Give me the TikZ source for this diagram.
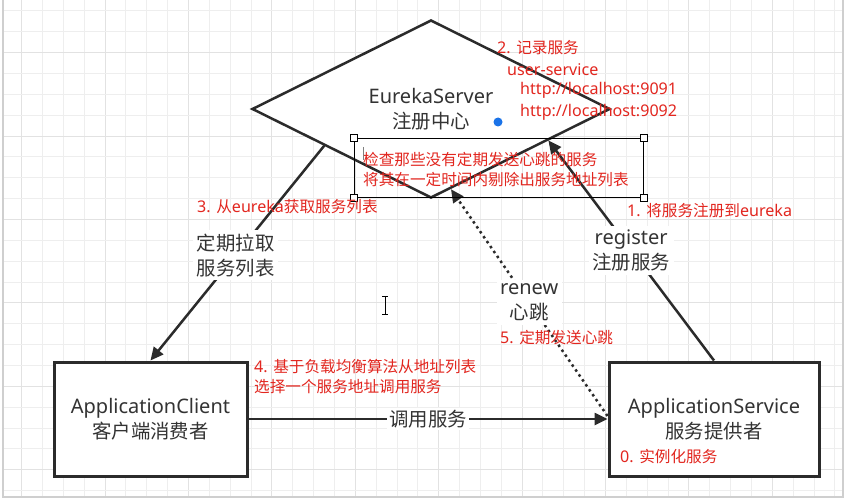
\documentclass[tikz,border=0pt]{standalone}
\usepackage{fontspec}
\setmainfont{Noto Sans}
\newfontfamily\zhfont[Scale=0.97]{Noto Sans CJK SC}
\newcommand\zh[1]{{\zhfont #1}}
\usetikzlibrary{shapes.geometric,arrows.meta}
\definecolor{txt}{HTML}{333333}
\definecolor{ln}{HTML}{2B2B2B}
\definecolor{rd}{HTML}{E2261F}
\definecolor{gmin}{HTML}{EEEEEE}
\definecolor{gmaj}{HTML}{E2E2E2}
\definecolor{frm}{HTML}{CFCFCF}
\definecolor{bluedot}{HTML}{1A73E8}
\tikzset{
  blk/.style={text=txt, font=\fontsize{20}{25}\selectfont, align=center},
  redtxt/.style={text=rd, font=\fontsize{16.1}{20}\selectfont, anchor=west, inner sep=0pt},
  boxnode/.style={draw=ln, line width=3pt, fill=white, blk},
  conn/.style={draw=ln, line width=2.5pt},
  tip/.style={-{Triangle[length=13pt,width=12pt]}},
  lbl/.style={blk, fill=white, inner sep=3.5pt},
  handle/.style={draw=black, fill=white, line width=0.8pt, minimum size=7pt, inner sep=0pt},
}
\begin{document}
\begin{tikzpicture}[x=1pt,y=-1pt]
\useasboundingbox (0,0) rectangle (847,500);
\fill[white] (0,0) rectangle (847,500);
% grid
\foreach \k in {0,...,39} {
  \pgfmathsetmacro\xx{21.7+20.85*\k}
  \pgfmathtruncatemacro\mm{mod(\k,4)}
  \ifnum\mm=0 \draw[gmaj, line width=1pt] (\xx,0) -- (\xx,497);
  \else \draw[gmin, line width=1pt] (\xx,0) -- (\xx,497); \fi
}
\foreach \k in {0,...,23} {
  \pgfmathsetmacro\yy{11+20.85*\k}
  \pgfmathtruncatemacro\mm{mod(\k,4)}
  \ifnum\mm=2 \draw[gmaj, line width=1pt] (3,\yy) -- (843,\yy);
  \else \draw[gmin, line width=1pt] (3,\yy) -- (843,\yy); \fi
}
\draw[frm, line width=1.2pt] (3,0) -- (3,497) -- (843,497) -- (843,0);

% nodes
\node[diamond, draw=ln, line width=2.5pt, fill=white, aspect=2,
      minimum width=358pt, minimum height=178pt, inner sep=0pt, blk]
      (eureka) at (431,109) {EurekaServer\\\zh{注册中心}};
\fill[bluedot] (498,122) circle (4.5);

\node[boxnode, minimum width=193pt, minimum height=114pt]
      (client) at (150.5,419) {ApplicationClient\\\zh{客户端消费者}};
\node[boxnode, minimum width=210pt, minimum height=114pt]
      (service) at (714,419) {ApplicationService\\\zh{服务提供者}};

% connectors
\draw[conn, tip] (eureka.199) -- node[lbl, pos=0.51] {\zh{定期拉取}\\\zh{服务列表}} (client.north);
\draw[conn, tip] (service.north) -- node[lbl, pos=0.5] {register\\\zh{注册服务}} (eureka.-15);
\draw[conn, tip, line width=2.5pt, dash pattern=on 2.5pt off 3.5pt] ([yshift=3pt]service.west) -- node[lbl, pos=0.5] {renew\\\zh{心跳}} (eureka.-76);
\draw[conn, tip] (client.east) -- node[lbl, pos=0.5, inner sep=2pt] {\zh{调用服务}} (service.west);

% selection box
\node[draw=black, line width=0.9pt, minimum width=289pt, minimum height=59pt, inner sep=0pt] (sel) at (498.5,167.5) {};
\node[handle] (h1) at (sel.north west) {};
\node[handle] (h2) at (sel.north east) {};
\node[handle] (h3) at (sel.south west) {};
\node[handle] (h4) at (sel.south east) {};
\node[redtxt] (s1) at (363,160) {\zh{检查那些没有定期发送心跳的服务}};
\node[redtxt] (s2) at (363,180) {\zh{将其在一定时间内剔除出服务地址列表}};
\draw[gray, line width=0.8pt] (363,147) -- (363,160);

% red annotations
\node[redtxt] (r2a) at (497,48) {2. \zh{记录服务}};
\node[redtxt] (r2b) at (507,70) {user-service};
\node[redtxt] (r2c) at (520,90) {http://localhost:9091};
\node[redtxt] (r2d) at (520,112) {http://localhost:9092};
\node[redtxt] (r3) at (197,207) {3. \zh{从}eureka\zh{获取服务列表}};
\node[redtxt] (r1) at (627,211) {1. \zh{将服务注册到}eureka};
\node[redtxt] (r5) at (500,338) {5. \zh{定期发送心跳}};
\node[redtxt] (r4a) at (254,367) {4. \zh{基于负载均衡算法从地址列表}};
\node[redtxt] (r4b) at (254,387) {\zh{选择一个服务地址调用服务}};
\node[redtxt] (r0) at (620,457) {0. \zh{实例化服务}};

% I-beam cursor
\draw[black, line width=1pt] (385,296) -- (385,314);
\draw[black, line width=1pt] (382,296) -- (388,296) (382,314) -- (388,314);
\end{tikzpicture}
\end{document}
